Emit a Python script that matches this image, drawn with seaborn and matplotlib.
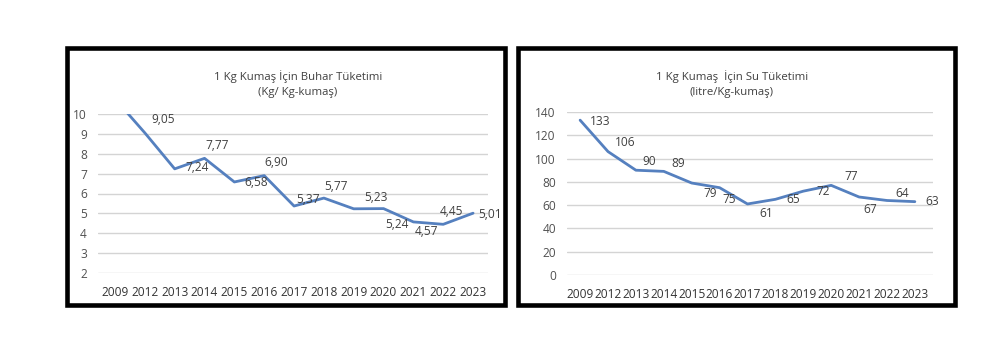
import matplotlib
matplotlib.use("Agg")
import matplotlib.pyplot as plt
from matplotlib.patches import Rectangle
import seaborn as sns
import pandas as pd

years = ["2009", "2012", "2013", "2014", "2015", "2016", "2017",
         "2018", "2019", "2020", "2021", "2022", "2023"]
steam = [10.76, 9.05, 7.24, 7.77, 6.58, 6.90, 5.37, 5.77, 5.23, 5.24, 4.57, 4.45, 5.01]
water = [133, 106, 90, 89, 79, 75, 61, 65, 72, 77, 67, 64, 63]

steam_title = "1 Kg Kumaş İçin Buhar Tüketimi\n(Kg/ Kg-kumaş)"
water_title = "1 Kg Kumaş  İçin Su Tüketimi\n(litre/Kg-kumaş)"

# label offsets in pixels (dx, dy up)
steam_off = [(0, 0), (18, 13), (22, 1), (13, 13), (22, -1), (12, 13), (14, 7),
             (12, 12), (22, 11), (13, -16), (13, -10), (8, 13), (17, -1)]
water_off = [(20, -1), (17, 9), (13, 9), (14, 8), (18, -10), (10, -12), (19, -10),
             (18, 0), (20, 0), (20, 9), (11, -13), (15, 7), (17, 0)]

sns.set_theme(style="white")
plt.rcParams["font.family"] = ["Open Sans", "DejaVu Sans"]

W, H = 1000, 341
fig = plt.figure(figsize=(W / 100, H / 100), dpi=100, facecolor="white")

line_color = "#5580BF"
grid_color = "#D4D4D4"
tick_color = "#333333"


def fx(px):
    return px / W


def fy(py):
    return 1 - py / H


def panel(rect_px, ax_px, df_vals, ylim, yticks, xlim, title, title_xy, offs, fmt, tickpad):
    x0, y0, x1, y1 = rect_px
    fig.add_artist(Rectangle((fx(x0), fy(y1)), fx(x1 - x0), (y1 - y0) / H,
                             transform=fig.transFigure, fill=False, lw=3.3, ec="black"))
    ax0, ay0, ax1, ay1 = ax_px
    ax = fig.add_axes([fx(ax0), fy(ay1), fx(ax1 - ax0), (ay1 - ay0) / H])
    ax.set_facecolor("none")
    df = pd.DataFrame({"year": years, "value": df_vals})
    sns.lineplot(data=df, x="year", y="value", sort=False, ax=ax,
                 color=line_color, lw=2.0, zorder=3)
    ax.set_ylim(*ylim)
    ax.set_xlim(*xlim)
    ax.set_yticks(yticks)
    ax.yaxis.grid(True, color=grid_color, lw=1.0)
    ax.xaxis.grid(False)
    for s in ax.spines.values():
        s.set_visible(False)
    ax.set_xlabel("")
    ax.set_ylabel("")
    ax.tick_params(axis="x", length=0, pad=tickpad, labelsize=8.6, labelcolor=tick_color)
    ax.tick_params(axis="y", length=0, pad=8, labelsize=8.6, labelcolor="#505050")
    for i, (y, v) in enumerate(zip(years, df_vals)):
        if v > ylim[1]:
            continue
        dx, dy = offs[i]
        ax.annotate(fmt(v), (i, v), xytext=(dx, dy), textcoords="offset pixels",
                    ha="center", va="center", fontsize=8.6, color="#404040", zorder=4)
    fig.text(fx(title_xy[0]), fy(title_xy[1]), title, ha="center", va="center",
             fontsize=8.2, color="#404040", linespacing=1.45)
    return ax


panel((67, 48, 505, 305), (98, 114, 488, 273), steam, (2, 10), range(2, 11),
      (-0.57, 12.5), steam_title, (298, 84), steam_off,
      lambda v: f"{v:.2f}".replace(".", ","), 9)
panel((518, 48, 955, 305), (567, 112, 933, 275), water, (0, 140), range(0, 141, 20),
      (-0.47, 12.65), water_title, (732, 84), water_off,
      lambda v: f"{v:d}", 9)

fig.savefig("out.png", dpi=100, facecolor="white")
